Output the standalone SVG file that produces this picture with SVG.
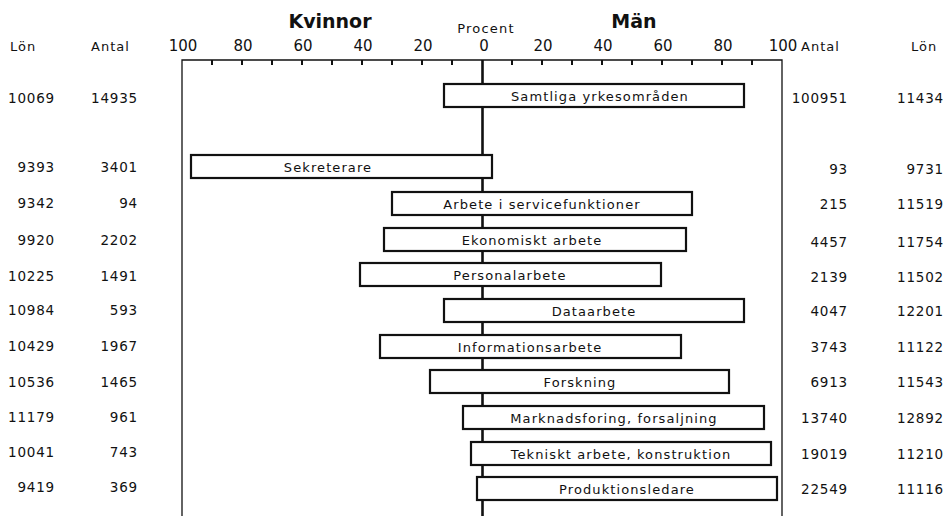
<svg xmlns="http://www.w3.org/2000/svg" width="950" height="516" viewBox="0 0 950 516">
<style>
.bg{fill:#fff}
.frame{stroke:#111;stroke-width:1.3;fill:none}
.axis{stroke:#111;stroke-width:2.6;fill:none}
.tick{stroke:#111;stroke-width:2}
.bar{fill:#fff;stroke:#111;stroke-width:2.2}
.lbl{font-family:"DejaVu Sans",sans-serif;font-size:13px;letter-spacing:1.1px;fill:#111;text-anchor:middle}
.num{font-family:"DejaVu Sans",sans-serif;font-size:13.5px;letter-spacing:0.8px;fill:#111;text-anchor:end}
.hd{font-family:"DejaVu Sans",sans-serif;font-size:13px;letter-spacing:1px;fill:#111}
.ax{font-family:"DejaVu Sans",sans-serif;font-size:15px;fill:#111;text-anchor:middle}
.title{font-family:"DejaVu Sans",sans-serif;font-weight:bold;font-size:19px;fill:#111;text-anchor:middle}
</style>
<rect class="bg" width="950" height="516"/>

<g id="header">
  <text class="hd" x="10" y="51">Lön</text>
  <text class="hd" x="91" y="51">Antal</text>
  <text class="hd" x="801" y="51">Antal</text>
  <text class="hd" x="911" y="51">Lön</text>
  <text class="title" x="330" y="28">Kvinnor</text>
  <text class="title" x="634" y="28">Män</text>
  <text class="hd" x="486" y="33" style="font-size:13px;letter-spacing:1.2px;text-anchor:middle">Procent</text>
  <text class="ax" x="183" y="51">100</text>
  <text class="ax" x="243" y="51">80</text>
  <text class="ax" x="303" y="51">60</text>
  <text class="ax" x="363" y="51">40</text>
  <text class="ax" x="423" y="51">20</text>
  <text class="ax" x="484" y="51">0</text>
  <text class="ax" x="543" y="51">20</text>
  <text class="ax" x="603" y="51">40</text>
  <text class="ax" x="663" y="51">60</text>
  <text class="ax" x="723" y="51">80</text>
  <text class="ax" x="783" y="51">100</text>
</g>

<g id="connectors">
  <path class="frame" d="M182,516 V60 H782 V516"/>
  <path class="axis" d="M482.5,60 V516"/>
  <path class="tick" d="M212,60v5M242,60v5M272,60v5M302,60v5M332,60v5M362,60v5M392,60v5M422,60v5M452,60v5M512,60v5M542,60v5M572,60v5M602,60v5M632,60v5M662,60v5M692,60v5M722,60v5M752,60v5"/>
</g>

<g id="row-samtliga">
  <rect class="bar" x="444" y="84" width="300" height="23"/>
  <text class="lbl" x="600" y="100.5">Samtliga yrkesområden</text>
  <text class="num" x="55" y="103">10069</text>
  <text class="num" x="138" y="103">14935</text>
  <text class="num" x="848" y="103">100951</text>
  <text class="num" x="944" y="103">11434</text>
</g>
<g id="row-sekreterare">
  <rect class="bar" x="191" y="155" width="301" height="23"/>
  <text class="lbl" x="328" y="171.5">Sekreterare</text>
  <text class="num" x="55" y="172">9393</text>
  <text class="num" x="138" y="172">3401</text>
  <text class="num" x="848" y="174">93</text>
  <text class="num" x="944" y="174">9731</text>
</g>
<g id="row-service">
  <rect class="bar" x="392" y="192" width="300" height="23"/>
  <text class="lbl" x="542" y="208.5">Arbete i servicefunktioner</text>
  <text class="num" x="55" y="208">9342</text>
  <text class="num" x="138" y="208">94</text>
  <text class="num" x="848" y="209">215</text>
  <text class="num" x="944" y="209">11519</text>
</g>
<g id="row-ekonomi">
  <rect class="bar" x="384" y="228" width="302" height="23"/>
  <text class="lbl" x="532" y="244.5">Ekonomiskt arbete</text>
  <text class="num" x="55" y="245">9920</text>
  <text class="num" x="138" y="245">2202</text>
  <text class="num" x="848" y="247">4457</text>
  <text class="num" x="944" y="247">11754</text>
</g>
<g id="row-personal">
  <rect class="bar" x="360" y="263" width="301" height="23"/>
  <text class="lbl" x="510" y="279.5">Personalarbete</text>
  <text class="num" x="55" y="281">10225</text>
  <text class="num" x="138" y="281">1491</text>
  <text class="num" x="848" y="282">2139</text>
  <text class="num" x="944" y="282">11502</text>
</g>
<g id="row-data">
  <rect class="bar" x="444" y="299" width="300" height="23"/>
  <text class="lbl" x="594" y="315.5">Dataarbete</text>
  <text class="num" x="55" y="315">10984</text>
  <text class="num" x="138" y="315">593</text>
  <text class="num" x="848" y="316">4047</text>
  <text class="num" x="944" y="316">12201</text>
</g>
<g id="row-information">
  <rect class="bar" x="380" y="335" width="301" height="23"/>
  <text class="lbl" x="530" y="351.5">Informationsarbete</text>
  <text class="num" x="55" y="351">10429</text>
  <text class="num" x="138" y="351">1967</text>
  <text class="num" x="848" y="352">3743</text>
  <text class="num" x="944" y="352">11122</text>
</g>
<g id="row-forskning">
  <rect class="bar" x="430" y="370" width="299" height="23"/>
  <text class="lbl" x="580" y="386.5">Forskning</text>
  <text class="num" x="55" y="387">10536</text>
  <text class="num" x="138" y="387">1465</text>
  <text class="num" x="848" y="387">6913</text>
  <text class="num" x="944" y="387">11543</text>
</g>
<g id="row-marknad">
  <rect class="bar" x="463" y="406" width="301" height="23"/>
  <text class="lbl" x="614" y="422.5">Marknadsforing, forsaljning</text>
  <text class="num" x="55" y="422">11179</text>
  <text class="num" x="138" y="422">961</text>
  <text class="num" x="848" y="423">13740</text>
  <text class="num" x="944" y="423">12892</text>
</g>
<g id="row-tekniskt">
  <rect class="bar" x="471" y="442" width="300" height="23"/>
  <text class="lbl" x="621" y="458.5">Tekniskt arbete, konstruktion</text>
  <text class="num" x="55" y="457">10041</text>
  <text class="num" x="138" y="457">743</text>
  <text class="num" x="848" y="459">19019</text>
  <text class="num" x="944" y="459">11210</text>
</g>
<g id="row-produktion">
  <rect class="bar" x="477" y="477" width="300" height="23"/>
  <text class="lbl" x="627" y="493.5">Produktionsledare</text>
  <text class="num" x="55" y="492">9419</text>
  <text class="num" x="138" y="492">369</text>
  <text class="num" x="848" y="494">22549</text>
  <text class="num" x="944" y="494">11116</text>
</g>
</svg>
